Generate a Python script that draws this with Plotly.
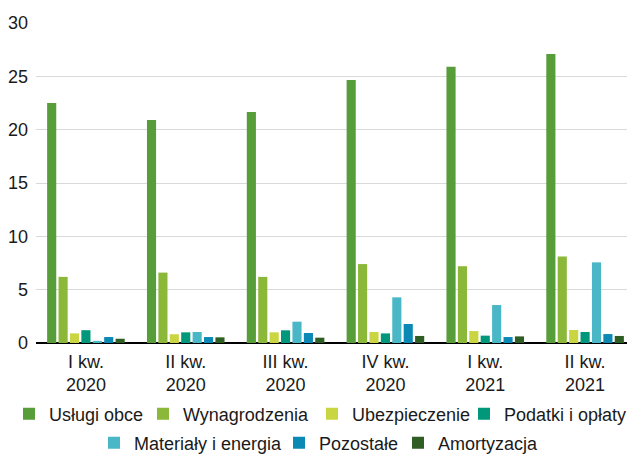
import plotly.graph_objects as go

categories = ["I kw.<br>2020", "II kw.<br>2020", "III kw.<br>2020", "IV kw.<br>2020", "I kw.<br>2021", "II kw.<br>2021"]

uslugi_obce = [22.5, 20.9, 21.65, 24.65, 25.9, 27.1]
wynagrodzenia = [6.2, 6.6, 6.2, 7.4, 7.2, 8.1]
ubezpieczenie = [0.9, 0.82, 1.0, 1.03, 1.12, 1.22]
podatki_i_oplaty = [1.2, 1.0, 1.19, 0.9, 0.69, 1.03]
materialy_i_energia = [0.2, 1.03, 2.0, 4.28, 3.56, 7.56]
pozostale = [0.56, 0.56, 0.94, 1.78, 0.56, 0.84]
amortyzacja = [0.4, 0.53, 0.5, 0.66, 0.62, 0.66]

series_names = ["Usługi obce", "Wynagrodzenia", "Ubezpieczenie", "Podatki i opłaty",
                "Materiały i energia", "Pozostałe", "Amortyzacja"]
series_values = [uslugi_obce, wynagrodzenia, ubezpieczenie, podatki_i_oplaty,
                 materialy_i_energia, pozostale, amortyzacja]
colors = ["#579d3a", "#8cb83a", "#c9d642", "#00977a", "#4ab7c7", "#0b88b4", "#2e5e23"]

FONT = "Liberation Sans, Arial"
W, H = 627, 447

# legend entry placement (layout only): left edge of swatch in px, row
legend_swatch_x = [15, 149, 318, 470, 100, 285, 404]
legend_row = [0, 0, 0, 0, 1, 1, 1]
row_y = [0.0917, 0.0268]

fig = go.Figure()
for i, (name, vals, col) in enumerate(zip(series_names, series_values, colors)):
    lname = "legend" if i == 0 else f"legend{i+1}"
    fig.add_trace(go.Bar(
        x=categories, y=vals, name=name,
        marker=dict(color=col, line=dict(width=0)),
        legend=lname,
    ))
    fig.update_layout(**{lname: dict(
        orientation="h", xref="container", yref="container",
        x=(legend_swatch_x[i] - 14) / W, xanchor="left",
        y=row_y[legend_row[i]], yanchor="middle",
        font=dict(family=FONT, size=18, color="#1a1a1a"),
        itemwidth=30, bgcolor="rgba(0,0,0,0)", borderwidth=0,
    )})

fig.update_layout(
    width=W, height=H,
    margin=dict(l=28, r=0, t=15, b=112, autoexpand=False),
    paper_bgcolor="white", plot_bgcolor="white",
    font=dict(family=FONT, size=18, color="#1a1a1a"),
    barmode="group", bargap=0.2, bargroupgap=0.2,
    showlegend=True,
    xaxis=dict(showgrid=False, showline=False, ticks="", tickfont=dict(size=18),
               ticklabelstandoff=6, fixedrange=True),
    yaxis=dict(range=[0, 30], dtick=5, showgrid=True, gridcolor="#d9d9d9", gridwidth=1,
               zeroline=True, zerolinecolor="#000000", zerolinewidth=1.5,
               showline=False, ticks="", tickfont=dict(size=18), ticklabelstandoff=7),
)

fig.write_html("out.html")
